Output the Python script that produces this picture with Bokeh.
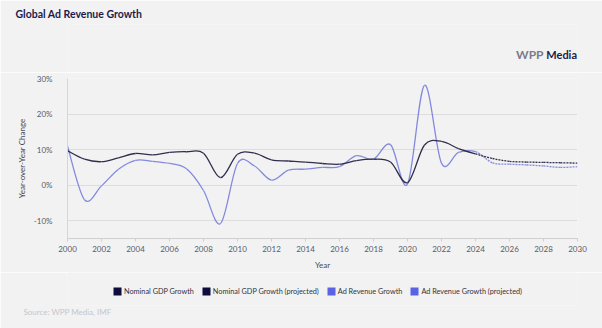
from bokeh.plotting import figure
from bokeh.layouts import column
from bokeh.models import (Range1d, FixedTicker, PrintfTickFormatter, Legend, LegendItem,
                          Label, Title)
from bokeh.embed import file_html
from bokeh.resources import INLINE

# ---- data ----
years_actual = list(range(2000, 2025))
years_proj = list(range(2024, 2031))
gdp_actual = [9.7, 7.3, 6.6, 7.7, 8.9, 8.5, 9.2, 9.4, 9.0, 2.1, 8.7, 9.0, 7.1,
              6.8, 6.5, 6.1, 5.9, 6.9, 7.3, 6.5, 0.7, 11.3, 12.3, 10.3, 8.8]
gdp_proj = [8.8, 7.5, 6.7, 6.5, 6.4, 6.3, 6.2]
ad_actual = [11.0, -4.1, -0.2, 4.5, 7.0, 6.7, 6.1, 4.6, -1.5, -10.8, 6.1, 5.4, 1.4,
             4.2, 4.5, 5.0, 5.2, 8.3, 7.3, 11.4, 0.3, 28.1, 6.2, 9.2, 9.4]
ad_proj = [9.4, 6.3, 5.9, 5.7, 5.4, 5.0, 5.2]
x_ticks = list(range(2000, 2031, 2))
y_ticks = [-10, 0, 10, 20, 30]
series_labels = ["Nominal GDP Growth", "Nominal GDP Growth (projected)",
                 "Ad Revenue Growth", "Ad Revenue Growth (projected)"]

# ---- styles ----
BG = "#f2f2f2"
FONT = "Lato"
GDP_LINE = "#302e4c"
AD_LINE = "#838ade"
GDP_SW = "#0e0d3d"
AD_SW = "#5a63e3"
NAVY = "#1d1b4c"

W = 602
HEAD_H = 72
MAIN_H = 200
FOOT_H = 328 - HEAD_H - MAIN_H
FRAME_W = 510


def blank(h, **kw):
    f = figure(width=W, height=h, output_backend="svg", toolbar_location=None,
               x_axis_type=None, y_axis_type=None,
               background_fill_color=BG, border_fill_color=BG, outline_line_color=None,
               min_border_left=0, min_border_right=0, **kw)
    f.grid.visible = False
    return f


# ---- header: title + logo ----
HEAD_TOP = 19
h = blank(HEAD_H, x_range=Range1d(0, FRAME_W), y_range=Range1d(0, HEAD_H - HEAD_TOP),
          min_border_top=HEAD_TOP, min_border_bottom=0)
h.title.text = "Global Ad Revenue Growth"
h.title.align = "left"
h.title.offset = -52
h.title.standoff = 10
h.title.text_font = FONT
h.title.text_font_size = "10.5px"
h.title.text_font_style = "bold"
h.title.text_color = NAVY
h.add_layout(Label(x=476, y=20, text="WPP", text_font=FONT,
                   text_font_size="12px", text_font_style="bold", text_color="#7c7b8c",
                   text_baseline="middle", text_align="right"))
h.add_layout(Label(x=509.5, y=20, text="Media", text_font=FONT,
                   text_font_size="11px", text_font_style="bold", text_color=NAVY,
                   text_baseline="middle", text_align="right"))

# ---- main chart ----
p = figure(width=W, height=MAIN_H, output_backend="svg", toolbar_location=None,
           x_range=Range1d(2000, 2030), y_range=Range1d(-15, 30),
           min_border_left=67, min_border_right=25, min_border_top=6,
           min_border_bottom=34,
           background_fill_color=BG, border_fill_color=BG, outline_line_color=None)

p.xaxis.ticker = FixedTicker(ticks=x_ticks)
p.xaxis.axis_label = "Year"
p.xaxis.axis_line_color = "#cfcfcf"
p.xaxis.major_tick_line_color = "#cfcfcf"
p.xaxis.major_tick_out = 3
p.xaxis.major_tick_in = 0
p.xaxis.minor_tick_line_color = None
p.xaxis.major_label_standoff = 4
p.xaxis.axis_label_standoff = 5

p.yaxis.ticker = FixedTicker(ticks=y_ticks)
p.yaxis.formatter = PrintfTickFormatter(format="%d%%")
p.yaxis.axis_label = "Year-over-Year Change"
p.yaxis.axis_line_color = "#d6d6d6"
p.yaxis.major_tick_line_color = None
p.yaxis.minor_tick_line_color = None
p.yaxis.major_label_standoff = 9
p.yaxis.axis_label_standoff = 4

for ax in (p.xaxis, p.yaxis):
    ax.major_label_text_font = FONT
    ax.major_label_text_font_size = "8px"
    ax.major_label_text_color = "#5a5a66"
    ax.axis_label_text_font = FONT
    ax.axis_label_text_font_size = "8px"
    ax.axis_label_text_font_style = "normal"
    ax.axis_label_text_color = "#4a4a55"

p.xgrid.grid_line_color = None
p.ygrid.grid_line_color = "#dddddd"
p.ygrid.grid_line_width = 1


def bezier_parts(xs, ys, k=1.0):
    n = len(xs)
    out = {k_: [] for k_ in ("x0", "y0", "x1", "y1", "cx0", "cy0", "cx1", "cy1")}
    for i in range(n - 1):
        x0, y0, x1, y1 = xs[i], ys[i], xs[i + 1], ys[i + 1]
        xm, ym = (xs[i - 1], ys[i - 1]) if i > 0 else (x0, y0)
        xp, yp = (xs[i + 2], ys[i + 2]) if i + 2 < n else (x1, y1)
        out["x0"].append(x0); out["y0"].append(y0)
        out["x1"].append(x1); out["y1"].append(y1)
        out["cx0"].append(x0 + (x1 - xm) / 6 * k)
        out["cy0"].append(y0 + (y1 - ym) / 6 * k)
        out["cx1"].append(x1 - (xp - x0) / 6 * k)
        out["cy1"].append(y1 - (yp - y0) / 6 * k)
    return out


def split(parts, n_solid):
    a = {k: v[:n_solid] for k, v in parts.items()}
    b = {k: v[n_solid:] for k, v in parts.items()}
    return a, b


all_years = years_actual + years_proj[1:]
n_solid = len(years_actual) - 1

for vals_a, vals_p, col, w in ((ad_actual, ad_proj, AD_LINE, 1.3),
                               (gdp_actual, gdp_proj, GDP_LINE, 1.3)):
    parts = bezier_parts(all_years, vals_a + vals_p[1:])
    solid, dashed = split(parts, n_solid)
    p.bezier(line_color=col, line_width=w, **solid)
    p.bezier(line_color=col, line_width=w, line_dash="2 1", **dashed)

# ---- footer: legend + source ----
FOOT_BOTTOM = 23
f = blank(FOOT_H, x_range=Range1d(0, FRAME_W), y_range=Range1d(0, FOOT_H - FOOT_BOTTOM),
          min_border_top=0, min_border_bottom=FOOT_BOTTOM)

nan = float("nan")
sw = []
for c in (GDP_SW, GDP_SW, AD_SW, AD_SW):
    sw.append(f.quad(left=[nan], right=[nan], top=[nan], bottom=[nan],
                     fill_color=c, line_color=None))
legend = Legend(items=[LegendItem(label=l, renderers=[r]) for l, r in zip(series_labels, sw)],
                orientation="horizontal", location=(45, 9),
                label_text_font=FONT, label_text_font_size="7.3px",
                label_text_color="#333340",
                glyph_width=10, glyph_height=10, label_height=10, label_standoff=2,
                spacing=7, margin=0, padding=3,
                background_fill_alpha=0, border_line_color=None)
f.add_layout(legend)

f.add_layout(Title(text="Source: WPP Media, IMF", align="left", offset=-44, standoff=0,
                   vertical_align="middle",
                   text_font=FONT, text_font_size="8px", text_font_style="normal",
                   text_color="#c6c6ca"), "below")

layout = column(h, p, f, spacing=0)
open("out.html", "w").write(file_html(layout, INLINE))
